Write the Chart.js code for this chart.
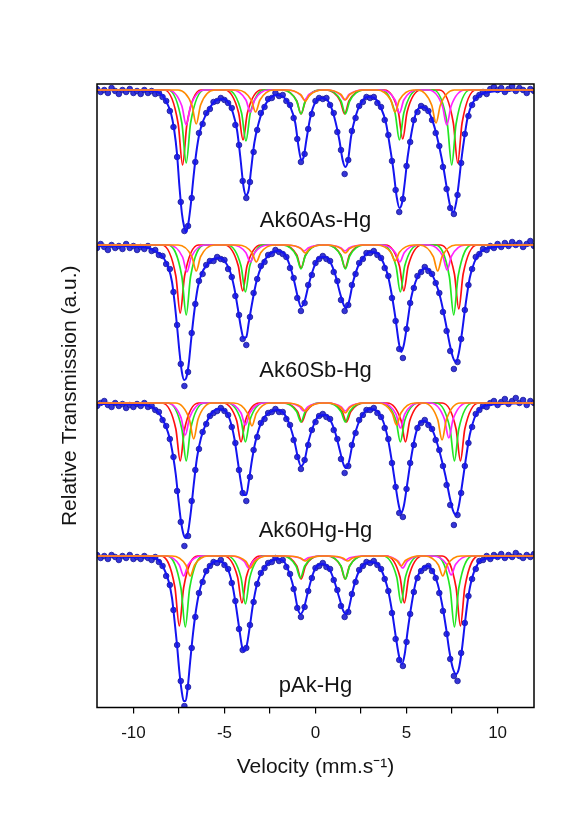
<!DOCTYPE html>
<html><head><meta charset="utf-8">
<script src="https://cdn.jsdelivr.net/npm/chart.js@4/dist/chart.umd.min.js"></script>
<style>html,body{margin:0;padding:0;background:#fff}canvas{display:block}</style>
</head><body>
<canvas id="c" width="577" height="824"></canvas>
<script>
// ---- data (velocity in mm/s, transmission in arbitrary units, baseline = 100) ----
const VELOCITY = [-12,-11.8,-11.6,-11.4,-11.2,-11,-10.8,-10.6,-10.4,-10.2,-10,-9.8,-9.6,-9.4,-9.2,-9,-8.8,-8.6,-8.4,-8.2,-8,-7.8,-7.6,-7.4,-7.2,-7,-6.8,-6.6,-6.4,-6.2,-6,-5.8,-5.6,-5.4,-5.2,-5,-4.8,-4.6,-4.4,-4.2,-4,-3.8,-3.6,-3.4,-3.2,-3,-2.8,-2.6,-2.4,-2.2,-2,-1.8,-1.6,-1.4,-1.2,-1,-0.8,-0.6,-0.4,-0.2,0,0.2,0.4,0.6,0.8,1,1.2,1.4,1.6,1.8,2,2.2,2.4,2.6,2.8,3,3.2,3.4,3.6,3.8,4,4.2,4.4,4.6,4.8,5,5.2,5.4,5.6,5.8,6,6.2,6.4,6.6,6.8,7,7.2,7.4,7.6,7.8,8,8.2,8.4,8.6,8.8,9,9.2,9.4,9.6,9.8,10,10.2,10.4,10.6,10.8,11,11.2,11.4,11.6,11.8,12];

const SAMPLES = ['Ak60As-Hg','Ak60Sb-Hg','Ak60Hg-Hg','pAk-Hg'];
const OFFSETS = [0,-155,-313,-466];
const LABEL_LEVEL = [-31,-26,-28,-30];
const X_TICKS = [-10,-7.5,-5,-2.5,0,2.5,5,7.5,10];
const X_TICK_LABELS = ['-10','','-5','','0','','5','','10'];

// measured points (one value per VELOCITY channel)
const AS_DATA = [101,98,100,97,102,99,96,100,98,101, 97,99,96,100,97,99,96,97,93,89, 79,63,33,-12,-41,-36,-8,28,57,66, 77,81,88,89,92,90,87,82,65,45, 9,-8,8,38,60,77,83,91,92,97, 94,95,89,85,72,51,28,36,61,76, 89,92,91,92,85,77,58,40,16,30, 59,72,84,88,93,92,93,87,83,70, 55,29,0,-22,-9,24,48,70,78,84, 82,79,70,57,44,23,1,-18,-24,-5, 27,56,74,85,92,95,98,96,101,103, 100,102,98,101,104,99,102,100,97,101, 99];
const SB_DATA = [97,101,98,95,100,97,99,96,101,97, 99,95,98,96,99,94,95,90,89,81, 76,53,20,-19,-41,-27,12,41,64,71, 80,84,84,88,86,85,76,68,49,30, 6,0,28,52,66,79,83,90,91,95, 93,91,88,77,67,47,34,42,60,70, 82,86,89,86,84,73,64,45,34,40, 60,71,82,86,92,92,94,90,87,77, 69,47,24,-4,-13,16,42,57,69,73, 78,74,71,62,52,33,14,-6,-24,-17, 6,35,60,76,88,91,96,95,99,97, 101,98,102,99,103,100,102,98,101,104, 99];
const HG_DATA = [97,100,102,98,96,100,97,99,95,98, 96,99,97,100,96,97,93,91,83,77, 64,46,12,-19,-43,-33,2,33,54,71, 79,87,90,92,95,92,88,76,60,33, 10,2,26,53,66,80,84,90,91,94, 91,91,84,78,63,46,34,43,58,73, 81,87,89,86,84,73,64,44,30,37, 58,70,83,88,93,93,95,90,86,75, 64,40,16,-10,-14,14,40,58,75,80, 83,78,74,63,53,37,18,-2,-22,-12, 10,37,60,76,89,93,97,96,100,102, 98,101,104,99,102,105,100,103,98,102, 100];
const PAK_DATA = [101,98,100,97,101,99,96,100,98,101, 97,99,97,100,98,96,99,94,90,80, 71,46,11,-25,-50,-31,8,39,63,74, 85,90,94,93,96,91,87,73,55,27, 6,8,31,54,72,83,88,93,94,98, 95,96,89,82,67,48,39,49,65,78, 88,90,93,89,87,76,66,50,39,44, 62,74,86,90,94,93,95,91,87,77, 65,43,17,-4,-10,14,42,64,78,85, 88,90,85,78,63,45,22,-3,-20,-25, 3,33,60,77,87,95,96,100,97,101, 99,102,98,101,99,103,100,98,101,99, 102];

// total fit curves, [velocity, value] pairs
const AS_FIT = [-12,100,-9,99,-8.43,95,-8.16,87,-7.94,77,-7.76,60,-7.61,37,-7.47,3,-7.34,-23,-7.21,-37,-7.1,-42,-6.98,-33,-6.84,-13,-6.7,13,-6.55,37,-6.37,57,-6.15,70,-5.78,83,-5.41,90,-5.05,91,-4.77,87,-4.53,77,-4.31,60,-4.13,33,-3.95,3,-3.82,-5,-3.67,0,-3.54,20,-3.36,47,-3.12,67,-2.85,82,-2.48,92,-2.12,95,-1.75,93,-1.38,83,-1.11,67,-0.93,43,-0.78,30,-0.65,33,-0.5,50,-0.28,73,0,88,0.39,92,0.76,87,1.03,73,1.31,50,1.49,30,1.64,23,1.79,30,1.95,53,2.19,73,2.5,87,2.87,93,3.23,92,3.6,82,3.87,67,4.09,43,4.28,20,4.46,-7,4.61,-18,4.75,-13,4.9,7,5.06,33,5.3,60,5.52,77,5.8,83,6.07,82,6.35,73,6.58,60,6.8,43,7.02,23,7.23,0,7.41,-17,7.57,-22,7.72,-13,7.87,7,8.01,30,8.18,53,8.36,73,8.63,87,9,95,9.55,98,12,100];
const SB_FIT = [-12,99,-9.5,98,-8.71,93,-8.34,87,-8.07,77,-7.88,63,-7.74,43,-7.61,20,-7.47,-7,-7.34,-27,-7.21,-35,-7.1,-33,-6.97,-20,-6.82,7,-6.66,33,-6.47,57,-6.24,72,-5.96,80,-5.59,86,-5.23,87,-4.95,83,-4.68,73,-4.46,57,-4.27,37,-4.09,17,-3.95,7,-3.8,8,-3.66,23,-3.47,43,-3.25,63,-2.94,80,-2.57,90,-2.12,94,-1.75,92,-1.42,80,-1.16,63,-0.96,47,-0.8,38,-0.61,43,-0.38,60,-0.1,77,0.17,87,0.54,88,0.81,83,1.09,70,1.33,53,1.55,40,1.7,37,1.86,45,2.06,63,2.32,78,2.65,88,3.01,93,3.38,92,3.71,83,3.97,70,4.19,50,4.39,27,4.57,3,4.7,-7,4.85,0,5.03,20,5.25,47,5.49,63,5.76,73,6.04,77,6.31,73,6.59,63,6.86,47,7.14,23,7.38,0,7.56,-13,7.71,-17,7.87,-8,8.05,13,8.24,40,8.47,67,8.73,83,9.06,93,9.51,97,12,100];
const HG_FIT = [-12,99,-9.5,98,-8.89,95,-8.53,88,-8.25,78,-8.01,65,-7.83,48,-7.67,28,-7.52,2,-7.39,-18,-7.24,-32,-7.12,-35,-6.99,-28,-6.84,-8,-6.69,18,-6.51,45,-6.29,65,-6,80,-5.69,90,-5.32,94,-4.95,92,-4.68,82,-4.46,65,-4.27,42,-4.09,20,-3.95,8,-3.8,8,-3.66,22,-3.47,45,-3.25,65,-2.94,82,-2.57,90,-2.12,93,-1.75,90,-1.42,78,-1.16,62,-0.96,45,-0.8,37,-0.61,42,-0.38,62,-0.1,78,0.17,87,0.54,88,0.81,83,1.09,70,1.33,53,1.55,38,1.7,35,1.86,43,2.06,62,2.32,78,2.65,90,3.01,94,3.38,92,3.71,82,3.97,65,4.19,42,4.39,18,4.57,-2,4.7,-10,4.85,-3,5.03,18,5.25,45,5.49,68,5.72,80,5.95,82,6.31,77,6.59,65,6.86,48,7.14,27,7.38,5,7.56,-8,7.71,-12,7.87,-3,8.05,18,8.24,42,8.47,68,8.73,85,9.06,95,9.51,98,12,100];
const PAK_FIT = [-12,100,-9.5,99,-8.71,97,-8.34,88,-8.07,75,-7.88,58,-7.74,35,-7.61,12,-7.48,-15,-7.35,-35,-7.24,-45,-7.13,-45,-7.02,-32,-6.88,-5,-6.73,22,-6.57,45,-6.37,65,-6.11,80,-5.78,91,-5.41,95,-5.05,93,-4.77,85,-4.53,68,-4.35,48,-4.17,25,-4.02,8,-3.89,5,-3.76,12,-3.62,28,-3.43,52,-3.21,72,-2.94,85,-2.57,93,-2.12,97,-1.75,95,-1.42,82,-1.16,65,-0.98,48,-0.83,42,-0.65,47,-0.43,63,-0.14,82,0.08,90,0.39,92,0.76,87,1.03,75,1.31,58,1.53,45,1.68,42,1.82,47,2.04,65,2.32,82,2.68,92,3.05,94,3.42,92,3.69,83,3.96,68,4.2,45,4.42,18,4.61,-2,4.75,-8,4.9,2,5.06,25,5.28,52,5.52,75,5.85,87,6.16,90,6.44,85,6.71,72,6.95,52,7.17,28,7.35,5,7.54,-12,7.72,-18,7.87,-13,8.03,5,8.2,32,8.38,58,8.6,78,8.91,92,9.28,97,12,100];

// sub-spectra (sextets), [velocity, value] pairs
const AS_RED = [-12,100,-8.3,100,-7.54,66,-7.3,25,-7.06,66,-6.3,100,-4.98,100,-4.22,77,-3.98,50,-3.74,77,-2.98,100,-1.79,100,-1.03,89,-0.79,76,-0.55,89,0.21,100,0.6,100,1.36,89,1.6,76,1.84,89,2.6,100,3.79,100,4.55,78,4.79,51,5.03,78,5.79,100,6.81,100,7.57,67,7.81,27,8.05,67,8.81,100,12,100];
const AS_GREEN = [-12,100,-8.1,100,-7.34,67,-7.1,27,-6.86,67,-6.1,100,-4.82,100,-4.06,77,-3.82,49,-3.58,77,-2.82,100,-1.8,100,-1.04,89,-0.8,76,-0.56,89,0.2,100,0.64,100,1.4,89,1.64,76,1.88,89,2.64,100,3.61,100,4.37,77,4.61,50,4.85,77,5.61,100,6.48,100,7.24,66,7.48,25,7.72,66,8.48,100,12,100];
const AS_MAGENTA = [-12,100,-8.1,100,-7.34,84,-7.1,65,-6.86,84,-6.1,100,-4.58,100,-3.82,90,-3.58,78,-3.34,90,-2.58,100,-1.6,100,-0.84,95.5,-0.6,90,-0.36,95.5,0.4,100,0.6,100,1.36,95.5,1.6,90,1.84,95.5,2.6,100,3.61,100,4.37,90,4.61,77,4.85,90,5.61,100,6.21,100,6.97,84,7.21,65,7.45,84,8.21,100,12,100];
const AS_ORANGE = [-12,100,-7.55,100,-6.79,85,-6.55,66,-6.31,85,-5.55,100,-4.29,100,-3.53,90,-3.29,78,-3.05,90,-2.29,100,-1.56,100,-0.8,95,-0.56,89,-0.32,95,0.44,100,0.64,100,1.4,95.5,1.64,90,1.88,95.5,2.64,100,3.37,100,4.13,90,4.37,78,4.61,90,5.37,100,5.62,100,6.38,85,6.62,67,6.86,85,7.62,100,12,100];

const SB_RED = [-12,100,-8.43,100,-7.67,69,-7.43,32,-7.19,69,-6.43,100,-5,100,-4.24,79,-4,54,-3.76,79,-3,100,-1.79,100,-1.03,90,-0.79,77,-0.55,90,0.21,100,0.63,100,1.39,90,1.63,77,1.87,90,2.63,100,3.85,100,4.61,79,4.85,54,5.09,79,5.85,100,6.87,100,7.63,71,7.87,36,8.11,71,8.87,100,12,100];
const SB_GREEN = [-12,100,-8.1,100,-7.34,68.5,-7.1,30,-6.86,68.5,-6.1,100,-4.85,100,-4.09,79,-3.85,53,-3.61,79,-2.85,100,-1.8,100,-1.04,89,-0.8,76,-0.56,89,0.2,100,0.64,100,1.4,89,1.64,76,1.88,89,2.64,100,3.66,100,4.42,79,4.66,53,4.9,79,5.66,100,6.59,100,7.35,68.5,7.59,30,7.83,68.5,8.59,100,12,100];
const SB_MAGENTA = [-12,100,-8.06,100,-7.3,88,-7.06,73,-6.82,88,-6.06,100,-4.58,100,-3.82,92.3,-3.58,83,-3.34,92.3,-2.58,100,-1.62,100,-0.86,97.3,-0.62,94,-0.38,97.3,0.38,100,0.62,100,1.38,97.3,1.62,94,1.86,97.3,2.62,100,3.63,100,4.39,92.3,4.63,83,4.87,92.3,5.63,100,6.23,100,6.99,88.8,7.23,75,7.47,88.8,8.23,100,12,100];
const SB_ORANGE = [-12,100,-7.55,100,-6.79,88.3,-6.55,74,-6.31,88.3,-5.55,100,-4.25,100,-3.49,92.3,-3.25,83,-3.01,92.3,-2.25,100,-1.56,100,-0.8,96.4,-0.56,92,-0.32,96.4,0.44,100,0.64,100,1.4,96.4,1.64,92,1.88,96.4,2.64,100,3.37,100,4.13,92.8,4.37,84,4.61,92.8,5.37,100,5.71,100,6.47,88.3,6.71,74,6.95,88.3,7.71,100,12,100];

const HG_RED = [-12,100,-8.43,100,-7.67,74,-7.43,42,-7.19,74,-6.43,100,-5.09,100,-4.33,82.5,-4.09,61,-3.85,82.5,-3.09,100,-1.75,100,-0.99,91.5,-0.75,81,-0.51,91.5,0.25,100,0.7,100,1.46,91.5,1.7,81,1.94,91.5,2.7,100,3.94,100,4.7,82.5,4.94,61,5.18,82.5,5.94,100,6.96,100,7.72,74,7.96,42,8.2,74,8.96,100,12,100];
const HG_GREEN = [-12,100,-8.1,100,-7.34,74,-7.1,42,-6.86,74,-6.1,100,-4.85,100,-4.09,82.5,-3.85,61,-3.61,82.5,-2.85,100,-1.8,100,-1.04,91.5,-0.8,81,-0.56,91.5,0.2,100,0.64,100,1.4,91.5,1.64,81,1.88,91.5,2.64,100,3.66,100,4.42,82.5,4.66,61,4.9,82.5,5.66,100,6.63,100,7.39,74,7.63,42,7.87,74,8.63,100,12,100];
const HG_MAGENTA = [-12,100,-8.15,100,-7.39,85.6,-7.15,68,-6.91,85.6,-6.15,100,-4.85,100,-4.09,90,-3.85,78,-3.61,90,-2.85,100,-1.65,100,-0.89,96.4,-0.65,92,-0.41,96.4,0.35,100,0.64,100,1.4,96.4,1.64,92,1.88,96.4,2.64,100,3.66,100,4.42,88.8,4.66,75,4.9,88.8,5.66,100,6.32,100,7.08,84,7.32,65,7.56,84,8.32,100,12,100];
const HG_ORANGE = [-12,100,-7.69,100,-6.93,83.8,-6.69,64,-6.45,83.8,-5.69,100,-4.49,100,-3.73,89.7,-3.49,77,-3.25,89.7,-2.49,100,-1.56,100,-0.8,96.4,-0.56,92,-0.32,96.4,0.44,100,0.64,100,1.4,95.5,1.64,90,1.88,95.5,2.64,100,3.45,100,4.21,90,4.45,78,4.69,90,5.45,100,5.95,100,6.71,83.4,6.95,63,7.19,83.4,7.95,100,12,100];

const PAK_RED = [-12,100,-8.48,100,-7.72,68.5,-7.48,30,-7.24,68.5,-6.48,100,-5.04,100,-4.28,79,-4.04,53,-3.8,79,-3.04,100,-1.79,100,-1.03,90,-0.79,77,-0.55,90,0.21,100,0.63,100,1.39,90,1.63,77,1.87,90,2.63,100,3.88,100,4.64,79,4.88,53,5.12,79,5.88,100,6.96,100,7.72,68.5,7.96,30,8.2,68.5,8.96,100,12,100];
const PAK_GREEN = [-12,100,-8.15,100,-7.39,68,-7.15,29,-6.91,68,-6.15,100,-4.85,100,-4.09,78.4,-3.85,52,-3.61,78.4,-2.85,100,-1.83,100,-1.07,90,-0.83,78,-0.59,90,0.17,100,0.64,100,1.4,90,1.64,77,1.88,90,2.64,100,3.7,100,4.46,79,4.7,53,4.94,79,5.7,100,6.63,100,7.39,68,7.63,29,7.87,68,8.63,100,12,100];
const PAK_MAGENTA = [-12,100,-8.24,100,-7.48,91,-7.24,80,-7,91,-6.24,100,-4.67,100,-3.91,94.6,-3.67,88,-3.43,94.6,-2.67,100,-1.65,100,-0.89,98.2,-0.65,96,-0.41,98.2,0.35,100,0.64,100,1.4,98.2,1.64,96,1.88,98.2,2.64,100,3.79,100,4.55,94.6,4.79,88,5.03,94.6,5.79,100,6.45,100,7.21,91.5,7.45,81,7.69,91.5,8.45,100,12,100];
const PAK_ORANGE = [-12,100,-7.88,100,-7.12,91,-6.88,80,-6.64,91,-5.88,100,-4.58,100,-3.82,94.6,-3.58,88,-3.34,94.6,-2.58,100,-1.56,100,-0.8,97.8,-0.56,95,-0.32,97.8,0.44,100,0.77,100,1.53,97.8,1.77,95,2.01,97.8,2.77,100,3.7,100,4.46,95.5,4.7,90,4.94,95.5,5.7,100,5.99,100,6.75,91,6.99,80,7.23,91,7.99,100,12,100];

// ---- build datasets ----
const SPECTRA = [
  {data: AS_DATA, fit: AS_FIT, comps: [AS_RED, AS_GREEN, AS_MAGENTA, AS_ORANGE]},
  {data: SB_DATA, fit: SB_FIT, comps: [SB_RED, SB_GREEN, SB_MAGENTA, SB_ORANGE]},
  {data: HG_DATA, fit: HG_FIT, comps: [HG_RED, HG_GREEN, HG_MAGENTA, HG_ORANGE]},
  {data: PAK_DATA, fit: PAK_FIT, comps: [PAK_RED, PAK_GREEN, PAK_MAGENTA, PAK_ORANGE]}
];
const COMP_COLORS = ['#ff1010', '#22e622', '#ff22ff', '#ff8a00'];
const COMP_ORDER = [4, 3, 2, 1];

function toPairs(arr, off) {
  const out = [];
  for (let i = 0; i < arr.length; i += 2) out.push({x: arr[i], y: arr[i + 1] + off});
  return out;
}
function toPoints(ys, off) {
  return ys.map((y, i) => ({x: VELOCITY[i], y: y + off}));
}

const datasets = [];
SPECTRA.forEach((s, k) => {
  const off = OFFSETS[k];
  datasets.push({
    label: SAMPLES[k] + ' data', data: toPoints(s.data, off), showLine: false,
    pointRadius: 2.8, pointBackgroundColor: '#3535d6', pointBorderColor: '#16169c',
    pointBorderWidth: 0.8, order: 6
  });
  datasets.push({
    label: SAMPLES[k] + ' fit', data: toPairs(s.fit, off), showLine: true,
    borderColor: '#1414f0', borderWidth: 2, pointRadius: 0,
    cubicInterpolationMode: 'monotone', order: 5
  });
  s.comps.forEach((c, j) => {
    datasets.push({
      label: SAMPLES[k] + ' sub ' + j, data: toPairs(c, off), showLine: true,
      borderColor: COMP_COLORS[j], borderWidth: 1.7, pointRadius: 0,
      cubicInterpolationMode: 'monotone', order: COMP_ORDER[j]
    });
  });
});

const FONT = '"Liberation Sans", Arial, Helvetica, sans-serif';

const framePlugin = {
  id: 'frame',
  beforeDraw(chart) {
    const ctx = chart.ctx;
    ctx.save(); ctx.fillStyle = '#fff'; ctx.fillRect(0, 0, chart.width, chart.height); ctx.restore();
  },
  afterDraw(chart) {
    const {ctx, chartArea: a, scales} = chart;
    ctx.save();
    ctx.strokeStyle = '#000'; ctx.lineWidth = 1.5;
    ctx.strokeRect(a.left, a.top, a.right - a.left, a.bottom - a.top);
    ctx.fillStyle = '#141414';
    ctx.font = '22px ' + FONT;
    ctx.textAlign = 'center'; ctx.textBaseline = 'middle';
    SAMPLES.forEach((name, k) => {
      ctx.fillText(name, scales.x.getPixelForValue(0), scales.y.getPixelForValue(LABEL_LEVEL[k] + OFFSETS[k]));
    });
    ctx.restore();
  }
};

new Chart(document.getElementById('c'), {
  type: 'scatter',
  data: {datasets},
  options: {
    responsive: false, animation: false, events: [],
    layout: {padding: {top: 84, right: 43, bottom: 0, left: 0}},
    plugins: {legend: {display: false}, tooltip: {enabled: false}},
    scales: {
      x: {
        type: 'linear', min: -12, max: 12,
        afterBuildTicks: (s) => { s.ticks = X_TICKS.map(v => ({value: v})); },
        ticks: {
          autoSkip: false, maxRotation: 0, padding: 10, color: '#141414',
          font: {size: 17, family: FONT},
          callback: (v) => { const i = X_TICKS.indexOf(v); return i >= 0 ? X_TICK_LABELS[i] : ''; }
        },
        grid: {display: true, drawOnChartArea: false, drawTicks: true, tickLength: 6, color: '#000', lineWidth: 1.2},
        border: {display: false},
        title: {display: true, text: 'Velocity (mm.s\u207B\u00B9)', color: '#141414', font: {size: 21, family: FONT}, padding: {top: 0, bottom: 44}},
        afterFit: (s) => { s.height = 116.5; }
      },
      y: {
        type: 'linear', min: -517.5, max: 106,
        ticks: {display: false},
        grid: {display: false},
        border: {display: false},
        title: {display: true, text: 'Relative Transmission (a.u.)', color: '#141414', font: {size: 21, family: FONT}, padding: {top: 58, bottom: 0}},
        afterFit: (s) => { s.width = 97; }
      }
    }
  },
  plugins: [framePlugin]
});
</script>
</body></html>
